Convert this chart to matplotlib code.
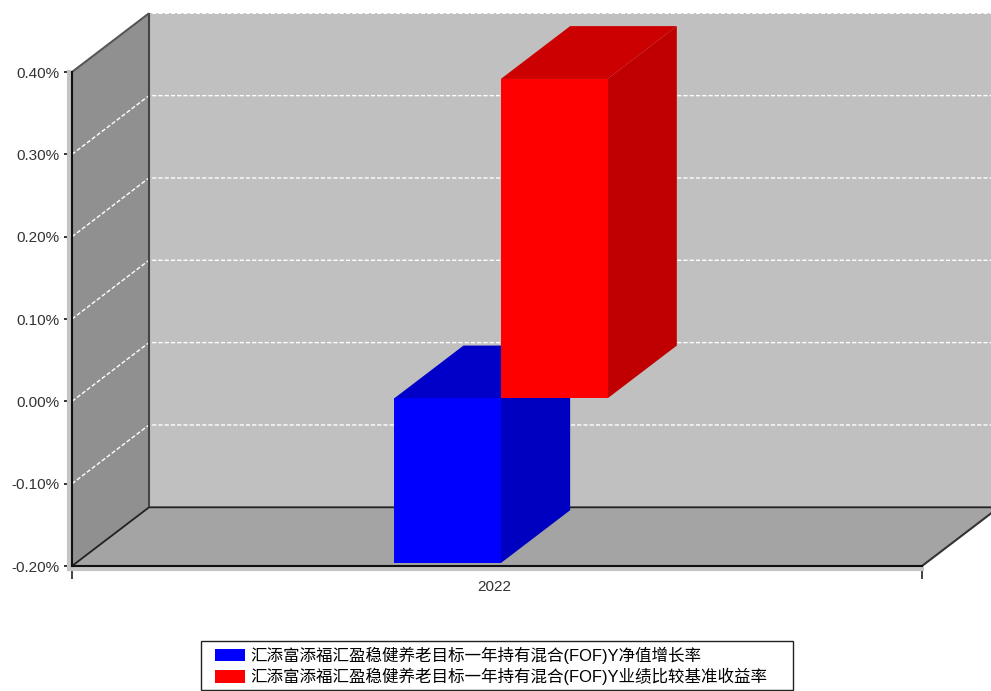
import matplotlib
matplotlib.use("Agg")
import matplotlib.pyplot as plt
from matplotlib.patches import Polygon, Patch, Rectangle
from matplotlib.legend_handler import HandlerPatch

plt.rcParams['font.family'] = ['Liberation Sans', 'Noto Sans CJK SC', 'DejaVu Sans']

years = ["2022"]
series_names = ["汇添富添福汇盈稳健养老目标一年持有混合(FOF)Y净值增长率",
                "汇添富添福汇盈稳健养老目标一年持有混合(FOF)Y业绩比较基准收益率"]
net_growth = [-0.20]
benchmark = [0.388]
y_ticks = [-0.2, -0.1, 0.0, 0.1, 0.2, 0.3, 0.4]

W, H = 991, 691
fig = plt.figure(figsize=(W / 100, H / 100), dpi=100, facecolor="white")
# front plane of the fake 3d box, in pixels 72..922 / 72..566
ax = fig.add_axes([72 / W, 1 - 566 / H, 850 / W, 494 / H])
ax.set_xlim(0, 1)
ax.set_ylim(-0.2, 0.4)
ax.patch.set_visible(False)

# one unit of depth moves this far in data units
DX = 77 / 850
DY = 58.7 / (494 / 0.6)


def pr(x, y, z):
    return (x + z * DX, y + z * DY)


def face(points, color, zorder, ec="none", lw=0):
    ax.add_patch(Polygon([pr(*p) for p in points], closed=True, fc=color, ec=ec,
                         lw=lw, zorder=zorder, clip_on=False))


def line(points, zorder=3, **kw):
    xy = [pr(*p) for p in points]
    ax.plot([p[0] for p in xy], [p[1] for p in xy], clip_on=False, zorder=zorder,
            solid_capstyle="butt", **kw)


lo, hi = y_ticks[0], y_ticks[-1]

# walls and floor
face([(0, lo, 1), (1, lo, 1), (1, hi, 1), (0, hi, 1)], "#c0c0c0", 1)
face([(0, lo, 0), (0, lo, 1), (0, hi, 1), (0, hi, 0)], "#909090", 1)
face([(0, lo, 0), (1, lo, 0), (1, lo, 1), (0, lo, 1)], "#a4a4a4", 1)

# shadow lip along the front axes
ax.plot([-0.0035, -0.0035], [lo, hi], color="#c4c4c4", lw=3, clip_on=False, zorder=2)
ax.plot([-0.004, 1], [lo - 0.004, lo - 0.004], color="#c4c4c4", lw=3, clip_on=False, zorder=2)

# grid
for v in y_ticks[1:]:
    line([(0, v, 0), (0, v, 1), (1, v, 1)], color="white", lw=1, ls=(0, (3, 1.5)))

# box edges
line([(0, lo, 0), (0, lo, 1), (1, lo, 1)], color="#222222", lw=1.3)
line([(0, lo, 1), (0, hi, 1)], color="#444444", lw=1.5)
line([(0, hi, 0), (0, hi, 1)], color="#555555", lw=1.5)
line([(1, lo, 0), (1, lo, 1)], color="#333333", lw=1.5)


def bar3d(x0, x1, y0, y1, z0, z1, front, top, side, zorder):
    face([(x0, y1, z0), (x1, y1, z0), (x1, y1, z1), (x0, y1, z1)], top, zorder)
    face([(x1, y0, z0), (x1, y0, z1), (x1, y1, z1), (x1, y1, z0)], side, zorder)
    face([(x0, y0, z0), (x1, y0, z0), (x1, y1, z0), (x0, y1, z0)], front, zorder + 0.1)


bar_w = 0.1255
z0, z1 = 0.05, 0.95
bar3d(0.5 - bar_w, 0.5, net_growth[0], 0, z0, z1, "#0000ff", "#0000c8", "#0000c0", 5)
bar3d(0.5, 0.5 + bar_w, 0, benchmark[0], z0, z1, "#ff0000", "#cc0000", "#c00000", 6)

# axes
for s in ("top", "right"):
    ax.spines[s].set_visible(False)
for s in ("left", "bottom"):
    ax.spines[s].set_color("#111111")
    ax.spines[s].set_linewidth(1.5)
    ax.spines[s].set_zorder(4)
ax.set_yticks(y_ticks)
ax.set_yticklabels(["%.2f%%" % v for v in y_ticks], fontsize=11, color="#333333")
ax.set_xticks([0, 1])
ax.set_xticklabels(["", ""])
ax.tick_params(axis="y", length=6, width=1.2, pad=3, color="#111111")
ax.tick_params(axis="x", length=9, width=1.2, color="#222222")
ax.annotate(years[0], xy=(0.5, lo), xytext=(-3, -14), textcoords="offset pixels", ha="center",
            va="top", fontsize=11, color="#333333", annotation_clip=False)


def legend_swatch(legend, orig_handle, xdescent, ydescent, width, height, fontsize):
    # legend boxes work in points, not pixels
    return Rectangle((6.5, -0.5), 21.6, height, fc=orig_handle.get_facecolor(), ec="none")


handles = [Patch(fc="#0000ff", ec="none"), Patch(fc="#ff0000", ec="none")]
fig.legend(handles, series_names, loc="lower left", bbox_to_anchor=(201 / W, 1 / H, 592 / W, 49 / H),
           mode="expand", ncol=1, fontsize=11.9, frameon=True, fancybox=False, edgecolor="#222222",
           framealpha=1, borderpad=0.3, labelspacing=0.25, handlelength=2.5, handleheight=0.8,
           handletextpad=0.2, borderaxespad=0,
           handler_map={Patch: HandlerPatch(patch_func=legend_swatch)})

fig.savefig("out.png", dpi=100)
